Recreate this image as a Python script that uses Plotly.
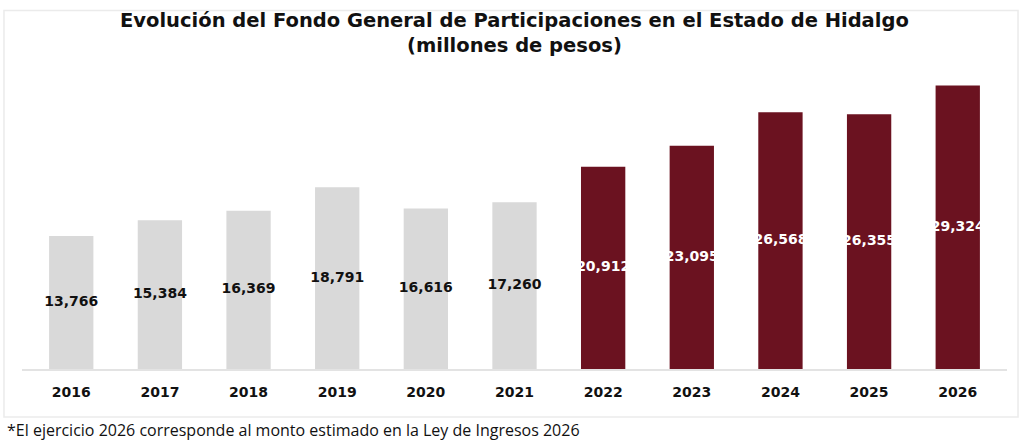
import plotly.graph_objects as go

# datos (millones de pesos)
years = ["2016", "2017", "2018", "2019", "2020", "2021",
         "2022", "2023", "2024", "2025", "2026"]
values = [13766, 15384, 16369, 18791, 16616, 17260,
          20912, 23095, 26568, 26355, 29324]
bar_colors = ["#d9d9d9"] * 6 + ["#6b1220"] * 5
label_colors = ["#111111"] * 6 + ["#ffffff"] * 5

labels = ["{:,}".format(v) for v in values]
mid = [v / 2 for v in values]

BOLD = "DejaVu Sans"

bars = go.Bar(x=years, y=values, marker=dict(color=bar_colors, line=dict(width=0)),
              hoverinfo="x+y", showlegend=False)

# etiquetas centradas en cada barra (se dejan desbordar como en el original)
txt = go.Scatter(x=years, y=mid, mode="text", text=labels,
                 textfont=dict(family=BOLD, size=14, weight="bold", color=label_colors),
                 hoverinfo="skip", showlegend=False, cliponaxis=False)

layout = go.Layout(
    width=1024, height=445,
    margin=dict(l=22, r=17, t=78.5, b=76),
    paper_bgcolor="white", plot_bgcolor="white",
    bargap=0.5,
    xaxis=dict(showgrid=False, zeroline=False, showline=True, linecolor="#e3e3e3", linewidth=1.5,
               ticks="", ticklabelstandoff=9,
               tickfont=dict(family=BOLD, size=14, weight="bold", color="#111111")),
    yaxis=dict(range=[0, 30000], visible=False, showgrid=False, zeroline=False),
    shapes=[dict(type="rect", xref="paper", yref="paper",
                 x0=-0.0183, x1=1.0112, y0=-0.1652, y1=1.2358,
                 line=dict(color="#ebebeb", width=1.5), fillcolor="rgba(0,0,0,0)", layer="below")],
    annotations=[
        dict(text="Evolución del Fondo General de Participaciones en el Estado de Hidalgo<br>(millones de pesos)",
             xref="paper", yref="paper", x=0.5, y=1.248, xanchor="center", yanchor="top",
             showarrow=False, font=dict(family=BOLD, size=19.5, weight="bold", color="#111111")),
        dict(text="*El ejercicio 2026 corresponde al monto estimado en la Ley de Ingresos 2026",
             xref="paper", yref="paper", x=-0.0173, y=-0.21,
             xanchor="left", yanchor="middle", showarrow=False,
             font=dict(family="Open Sans", size=16, color="#111111")),
    ],
)

fig = go.Figure(data=[bars, txt], layout=layout)
fig.write_html("out.html", config={"displayModeBar": False},
               post_script="document.body.style.margin='0';")
